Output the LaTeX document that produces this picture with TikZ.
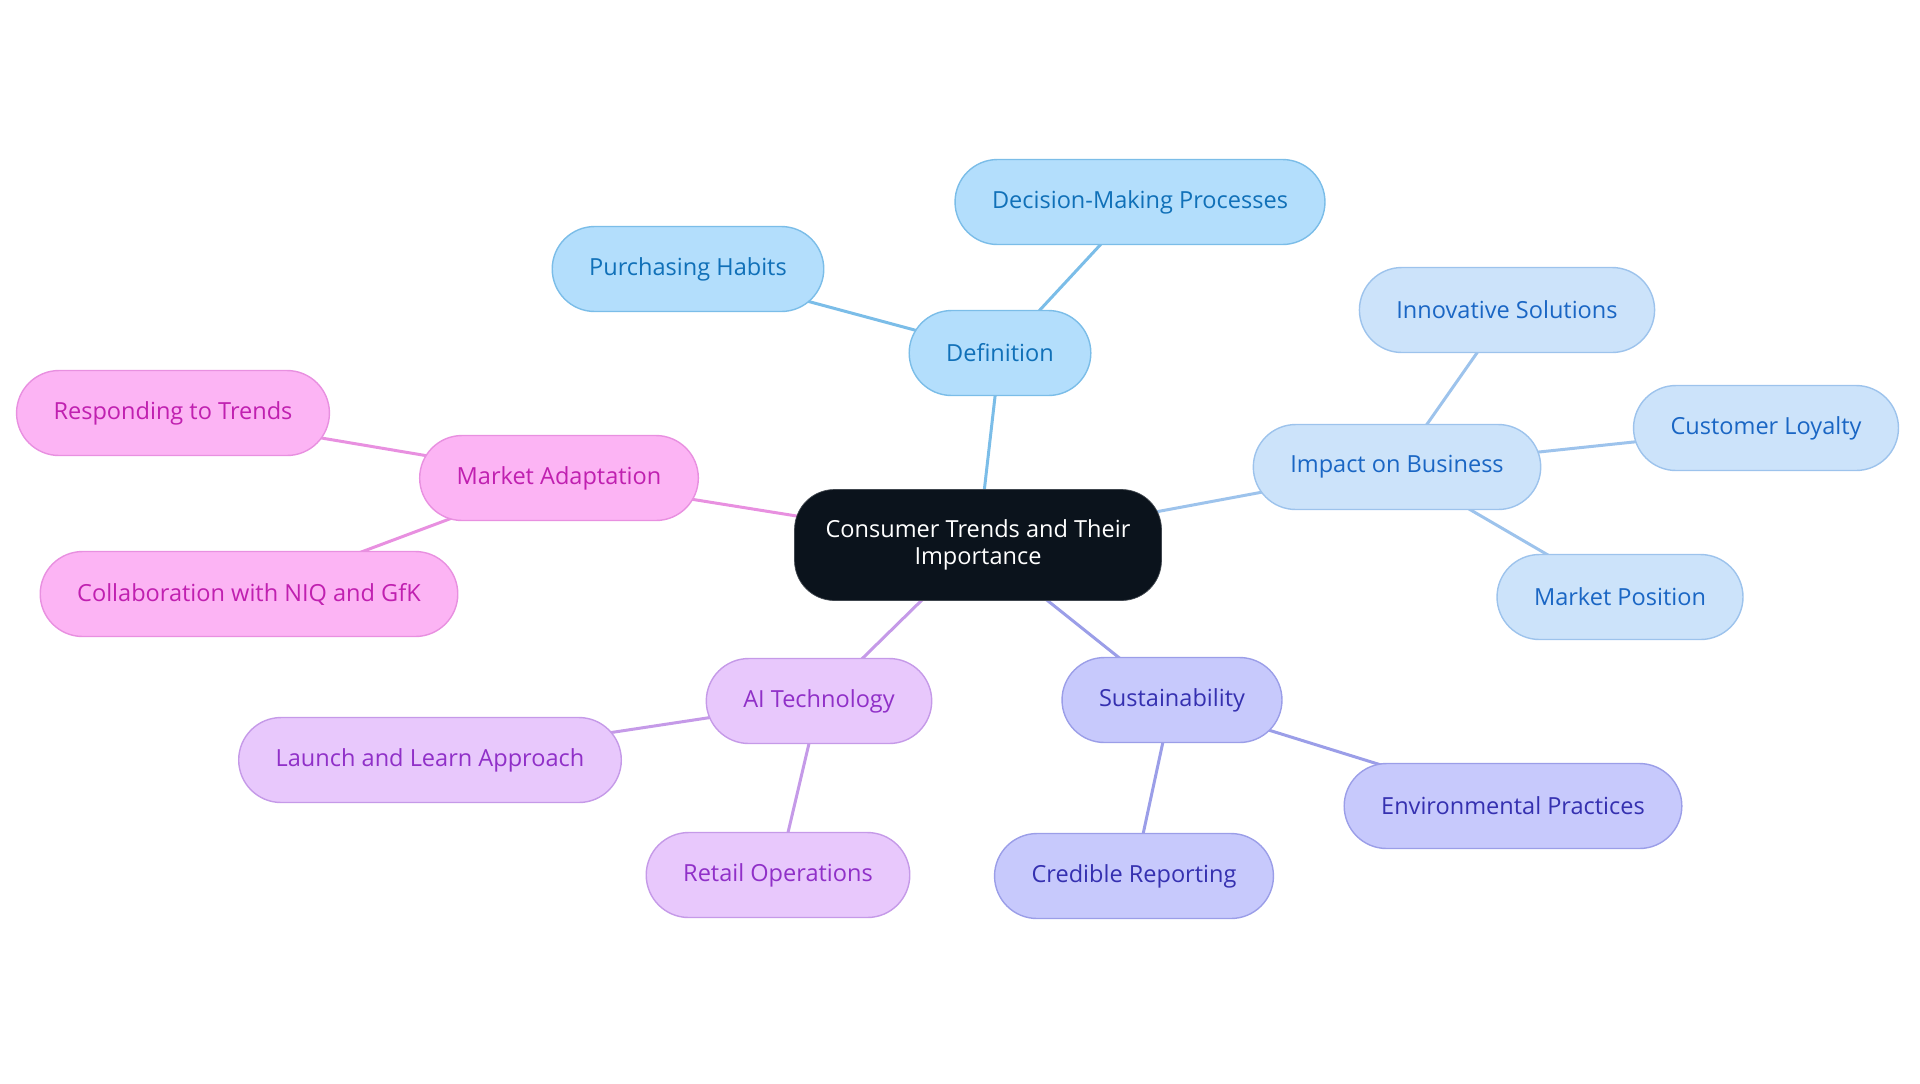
\documentclass[tikz,border=0pt]{standalone}
\usepackage{fontspec}
\setmainfont{Open Sans}
\usetikzlibrary{backgrounds}

\definecolor{rootfill}{HTML}{0B131C}
\definecolor{rootline}{HTML}{40464E}
\definecolor{deffill}{HTML}{B3DEFC}
\definecolor{defline}{HTML}{7BBDE8}
\definecolor{deftext}{HTML}{1070B8}
\definecolor{impfill}{HTML}{CCE3FA}
\definecolor{impline}{HTML}{9DC3EC}
\definecolor{imptext}{HTML}{1A66C4}
\definecolor{susfill}{HTML}{C7C9FC}
\definecolor{susline}{HTML}{9B9EE8}
\definecolor{sustext}{HTML}{3530B0}
\definecolor{aifill}{HTML}{E8C8FC}
\definecolor{ailine}{HTML}{C59AE8}
\definecolor{aitext}{HTML}{9030C8}
\definecolor{mktfill}{HTML}{FCB4F4}
\definecolor{mktline}{HTML}{E890E0}
\definecolor{mkttext}{HTML}{C020B0}

\tikzstyle{root} = [align=center,draw=rootline,fill=rootfill,text=white,rectangle,rounded corners=0.8cm,minimum width=7.34cm,minimum height=2.22cm,font=\fontsize{13.4}{15}\selectfont]
\tikzstyle{leaf} = [draw,line width=0.8pt,rectangle,rounded corners=0.85cm,minimum height=1.7cm,inner xsep=0.74cm,font=\fontsize{13.4}{15}\selectfont]
\tikzstyle{defn} = [leaf,fill=deffill,draw=defline,text=deftext]
\tikzstyle{impn} = [leaf,fill=impfill,draw=impline,text=imptext]
\tikzstyle{susn} = [leaf,fill=susfill,draw=susline,text=sustext]
\tikzstyle{ain} = [leaf,fill=aifill,draw=ailine,text=aitext]
\tikzstyle{mktn} = [leaf,fill=mktfill,draw=mktline,text=mkttext]
\tikzstyle{link} = [line width=0.06cm]

\begin{document}
\begin{tikzpicture}[x=0.02cm,y=-0.02cm]
	\useasboundingbox (0,0) rectangle (1920,1083);
	\node (root) [root] at (978,545) {Consumer Trends and Their\\Importance};
	\node (def) [defn] at (1000,353) {Definition};
	\node (decision) [defn] at (1140,202) {Decision-Making Processes};
	\node (habits) [defn] at (688,269) {Purchasing Habits};
	\node (impact) [impn] at (1397,467) {Impact on Business};
	\node (innov) [impn] at (1507,310) {Innovative Solutions};
	\node (loyalty) [impn] at (1766,428) {Customer Loyalty};
	\node (position) [impn] at (1620,597) {Market Position};
	\node (sust) [susn] at (1172,700) {Sustainability};
	\node (environ) [susn] at (1513,806) {Environmental Practices};
	\node (credible) [susn] at (1134,876) {Credible Reporting};
	\node (ai) [ain] at (819,701) {AI Technology};
	\node (launch) [ain] at (430,760) {Launch and Learn Approach};
	\node (retail) [ain] at (778,875) {Retail Operations};
	\node (adapt) [mktn] at (559,478) {Market Adaptation};
	\node (respond) [mktn] at (173,413) {Responding to Trends};
	\node (collab) [mktn] at (249,594) {Collaboration with NIQ and GfK};
	\begin{scope}[on background layer]
		\draw [link,defline] (root.center) -- (def.center);
		\draw [link,defline] (def.center) -- (decision.center);
		\draw [link,defline] (def.center) -- (habits.center);
		\draw [link,impline] (root.center) -- (impact.center);
		\draw [link,impline] (impact.center) -- (innov.center);
		\draw [link,impline] (impact.center) -- (loyalty.center);
		\draw [link,impline] (impact.center) -- (position.center);
		\draw [link,susline] (root.center) -- (sust.center);
		\draw [link,susline] (sust.center) -- (environ.center);
		\draw [link,susline] (sust.center) -- (credible.center);
		\draw [link,ailine] (root.center) -- (ai.center);
		\draw [link,ailine] (ai.center) -- (launch.center);
		\draw [link,ailine] (ai.center) -- (retail.center);
		\draw [link,mktline] (root.center) -- (adapt.center);
		\draw [link,mktline] (adapt.center) -- (respond.center);
		\draw [link,mktline] (adapt.center) -- (collab.center);
	\end{scope}
\end{tikzpicture}
\end{document}
